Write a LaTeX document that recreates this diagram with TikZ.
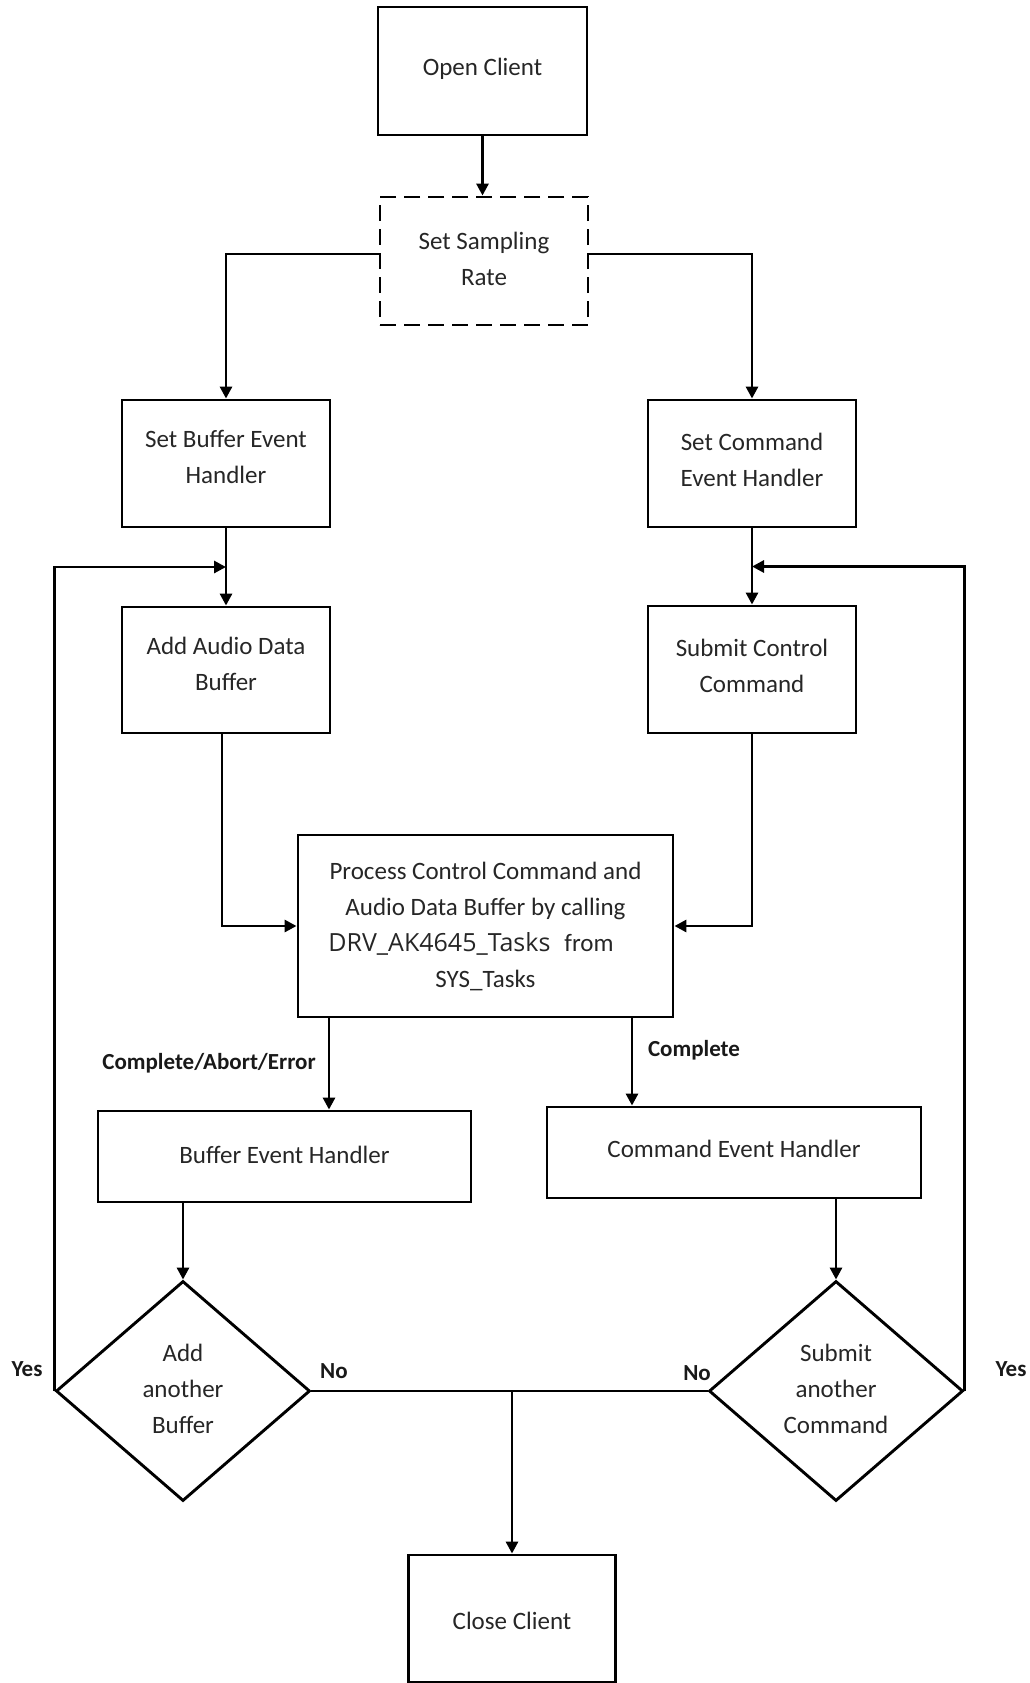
\documentclass[tikz,border=0pt]{standalone}
\usepackage{fontspec}
\setmainfont{Carlito}
\newfontfamily\drvfont{Open Sans}
\usetikzlibrary{arrows.meta,shapes.geometric,calc}
\begin{document}
\begin{tikzpicture}[x=1pt,y=-1pt,
  every node/.style={text=black!85},
  lbl/.style={inner sep=0pt, align=center, font=\fontsize{25}{36}\selectfont},
  % box caption, moved up by #1 from the box centre
  tx/.style 2 args={label={[lbl,yshift=#1]center:{#2}}},
  box/.style={draw=black, line width=2.9pt, rectangle, inner sep=0pt},
  dbox/.style={box, dash pattern=on 16pt off 8pt},
  decision/.style={draw=black, line width=2.9pt, diamond, inner sep=0pt,
    minimum width=254pt, minimum height=220pt},
  conn/.style={draw=black, line width=2.9pt},
  arr/.style={conn, -{Triangle[length=12pt,width=12pt]}},
  tag/.style={font=\fontsize{23}{28}\selectfont\bfseries, text=black!90}
]
\useasboundingbox (0,0) rectangle (1030,1683);

% process steps
\node[box, minimum width=209pt, minimum height=128pt, tx={2pt}{Open Client}] (open) at (482.5,71) {};
\node[dbox, minimum width=208pt, minimum height=128pt, tx={2pt}{Set Sampling\\Rate}] (rate) at (484,261) {};
\node[box, minimum width=208pt, minimum height=127pt, tx={7pt}{Set Buffer Event\\Handler}] (sbuf) at (226,463.5) {};
\node[box, minimum width=208pt, minimum height=127pt, tx={4pt}{Set Command\\Event Handler}] (scmd) at (752,463.5) {};
\node[box, minimum width=208pt, minimum height=126pt, tx={6pt}{Add Audio Data\\Buffer}] (abuf) at (226,670) {};
\node[box, minimum width=208pt, minimum height=127pt, tx={4pt}{Submit Control\\Command}] (ssub) at (752,669.5) {};
\node[box, minimum width=375pt, minimum height=182pt,
  tx={0pt}{Process Control Command and\\Audio Data Buffer by calling\\
  {\drvfont\fontsize{25}{36}\selectfont DRV\_AK4645\_Tasks}\hspace{14pt}from\rule{29pt}{0pt}\\SYS\_Tasks}] (proc) at (485.5,926) {};
\node[box, minimum width=373pt, minimum height=91pt, tx={2pt}{Buffer Event Handler}] (bufh) at (284.5,1156.5) {};
\node[box, minimum width=374pt, minimum height=91pt, tx={4pt}{Command Event Handler}] (cmdh) at (734,1152.5) {};
\node[decision, tx={2pt}{Add\\another\\Buffer}] (dbuf) at (183,1391) {};
\node[decision, tx={2pt}{Submit\\another\\Command}] (dcmd) at (836,1391) {};
\node[box, minimum width=207pt, minimum height=127pt, tx={-2pt}{Close Client}] (close) at (512,1618.5) {};

% branch labels
\node[tag] (lcae) at (209,1063) {Complete/Abort/Error};
\node[tag] (lcom) at (694,1050) {Complete};
\node[tag] (lyesl) at (27,1369) {Yes};
\node[tag] (lyesr) at (1011,1369) {Yes};
\node[tag] (lnol) at (334,1371) {No};
\node[tag] (lnor) at (697,1373) {No};

% connectors
\draw[arr] (open.south) -- (open.south |- rate.north);
\draw[arr] ([yshift=7pt]rate.west) -| (sbuf.north);
\draw[arr] ([yshift=7pt]rate.east) -| (scmd.north);
\draw[arr] (sbuf.south) -- (abuf.north);
\draw[arr] (scmd.south) -- (ssub.north);
\draw[arr] ([xshift=-4pt]abuf.south) |- (proc.west);
\draw[arr] (ssub.south) |- (proc.east);
\draw[arr] ([xshift=-156.5pt]proc.south) -- ([xshift=-156.5pt]proc.south |- bufh.north);
\draw[arr] ([xshift=146.5pt]proc.south) -- ([xshift=146.5pt]proc.south |- cmdh.north);
\draw[arr] (dbuf.north |- bufh.south) -- (dbuf.north);
\draw[arr] (dcmd.north |- cmdh.south) -- (dcmd.north);

% loop back on "Yes"
\coordinate (mbuf) at ($(sbuf.south)!0.5!(abuf.north)$);
\coordinate (mcmd) at ($(scmd.south)!0.5!(ssub.north)$);
\draw[arr] (dbuf.west) |- (mbuf);
\draw[arr] (dcmd.east) |- (mcmd);

% both "No" branches end the session
\draw[conn] (dbuf.east) -- (dcmd.west);
\coordinate (join) at (close.north |- dbuf.east);
\draw[arr] (join) -- (close.north);
\end{tikzpicture}
\end{document}
